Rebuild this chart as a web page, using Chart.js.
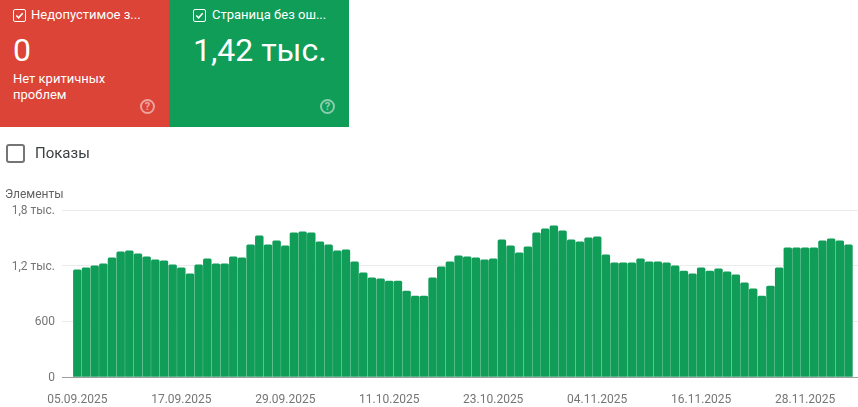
<!DOCTYPE html>
<html lang="ru">
<head>
<meta charset="utf-8">
<title>Индексирование</title>
<script src="https://cdn.jsdelivr.net/npm/chart.js@4"></script>
<style>
  html, body { margin: 0; padding: 0; background: #fff; }
  body { width: 858px; height: 407px; position: relative; overflow: hidden; font-family: Roboto, sans-serif; }
  #chart { position: absolute; left: 0; top: 0; }
  .card { position: absolute; top: 0; height: 127px; color: #fff; }
  .red { left: 0; width: 169px; background: #db4437; }
  .green { left: 169px; width: 180px; background: #0f9d58; }
  .box { position: absolute; top: 9px; left: 13px; width: 11px; height: 11px; border: 1px solid #fff; border-radius: 2px; }
  .box svg { position: absolute; left: 0; top: 0; }
  .title { position: absolute; top: 7px; left: 31px; font-size: 13px; font-weight: 400; line-height: 16px; white-space: nowrap; }
  .num { position: absolute; top: 30px; left: 13px; font-size: 32px; line-height: 40px; white-space: nowrap; }
  .note { position: absolute; top: 71px; left: 13px; font-size: 13px; font-weight: 400; line-height: 16px; }
  .help { position: absolute; top: 99px; left: 140px; width: 11px; height: 11px; border: 2px solid rgba(255,255,255,.5); border-radius: 50%; color: rgba(255,255,255,.55); font-size: 11px; font-weight: 700; line-height: 11px; text-align: center; }
  .shows-box { position: absolute; left: 6px; top: 144px; width: 15px; height: 15px; border: 2px solid #757575; border-radius: 3px; }
  .shows { position: absolute; left: 35px; top: 144px; font-size: 15px; line-height: 18px; color: #3c4043; }
  .unit { position: absolute; left: 5px; top: 187px; font-size: 12px; line-height: 14px; color: #616161; }
</style>
</head>
<body>
<canvas id="chart" width="858" height="407"></canvas>

<div class="card red">
  <div class="box"><svg width="11" height="11" viewBox="0 0 12 12"><path d="M2.5 6 L5 8.5 L9.5 3.5" fill="none" stroke="#fff" stroke-width="1.7"/></svg></div>
  <div class="title">Недопустимое з...</div>
  <div class="num">0</div>
  <div class="note">Нет критичных<br>проблем</div>
  <div class="help">?</div>
</div>
<div class="card green">
  <div class="box" style="left:24px"><svg width="11" height="11" viewBox="0 0 12 12"><path d="M2.5 6 L5 8.5 L9.5 3.5" fill="none" stroke="#fff" stroke-width="1.7"/></svg></div>
  <div class="title" style="left:43px">Страница без ош...</div>
  <div class="num" style="left:24px">1,42 тыс.</div>
  <div class="help" style="left:151px">?</div>
</div>
<div class="shows-box"></div>
<div class="shows">Показы</div>
<div class="unit">Элементы</div>

<script>
// значения столбцов, по одному на день с 05.09.2025
const dayValues = [
  1154, 1176, 1197, 1219, 1284, 1349, 1360, 1327, 1295, 1262,
  1252, 1208, 1176, 1111, 1208, 1273, 1219, 1219, 1295, 1284,
  1425, 1522, 1425, 1468, 1414, 1555, 1565, 1555, 1457, 1425,
  1360, 1371, 1241, 1122, 1068, 1057, 1035, 1035, 927, 873,
  873, 1068, 1187, 1241, 1306, 1295, 1284, 1262, 1273, 1479,
  1414, 1338, 1403, 1555, 1598, 1630, 1576, 1479, 1457, 1500,
  1511, 1317, 1230, 1230, 1230, 1273, 1241, 1241, 1230, 1197,
  1143, 1111, 1176, 1143, 1165, 1133, 1100, 1014, 949, 873,
  981, 1176, 1392, 1392, 1392, 1392, 1468, 1490, 1468, 1425
];

// подписи осей
const xTickDays = [0, 12, 24, 36, 48, 60, 72, 84];
const xTickLabels = ['05.09.2025', '17.09.2025', '29.09.2025', '11.10.2025', '23.10.2025', '04.11.2025', '16.11.2025', '28.11.2025'];
const yTickValues = [0, 600, 1200, 1800];
const yTickLabels = ['0', '600', '1,2 тыс.', '1,8 тыс.'];

const barColor = '#0f9d58';
const tickFont = { family: 'Roboto', size: 12 };

const ctx = document.getElementById('chart').getContext('2d');
const chart = new Chart(ctx, {
    type: 'bar',
    data: {
        datasets: [{
            data: dayValues.map((v, i) => ({ x: i, y: v })),
            backgroundColor: barColor,
            barThickness: 7.8,
            borderRadius: { topLeft: 1.5, topRight: 1.5, bottomLeft: 0, bottomRight: 0 },
            borderSkipped: false,
        }],
    },
    options: {
        responsive: false,
        animation: false,
        layout: { padding: { top: 210, right: 0, bottom: 0, left: 0 } },
        plugins: { legend: { display: false }, tooltip: { enabled: false } },
        scales: {
            x: {
                type: 'linear',
                offset: false,
                min: -1.77,
                max: 90.1,
                afterBuildTicks: (scale) => { scale.ticks = xTickDays.map((d) => ({ value: d })); },
                afterFit: (scale) => { scale.height = 30; },
                grid: { display: false },
                border: { display: true, color: '#9e9e9e' },
                ticks: {
                    autoSkip: false,
                    maxRotation: 0,
                    minRotation: 0,
                    padding: 8,
                    color: '#757575',
                    font: tickFont,
                    callback: (value) => xTickLabels[xTickDays.indexOf(value)],
                },
            },
            y: {
                min: 0,
                max: 1800,
                afterBuildTicks: (scale) => { scale.ticks = yTickValues.map((v) => ({ value: v })); },
                afterFit: (scale) => { scale.width = 62; },
                grid: { color: '#ebebeb', drawTicks: false },
                border: { display: false },
                ticks: {
                    padding: 7,
                    labelOffset: 1,
                    color: '#757575',
                    font: tickFont,
                    callback: (value) => yTickLabels[yTickValues.indexOf(value)],
                },
            },
        },
    },
});
</script>
</body>
</html>
